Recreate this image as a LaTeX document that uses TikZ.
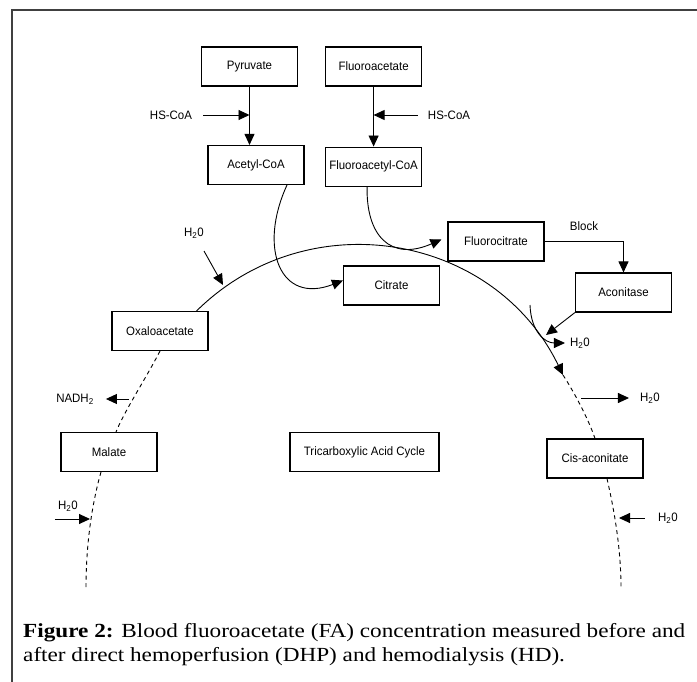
\documentclass[tikz,border=0pt]{standalone}
\usepackage{fontspec}
\usetikzlibrary{arrows.meta, positioning}
\newfontfamily\diagfont[FakeStretch=0.94]{Liberation Sans}
\newfontfamily\capfont[FakeStretch=1.16]{Liberation Serif}

\begin{document}
\begin{tikzpicture}[x=1pt, y=-1pt,
  metab/.style={rectangle, draw=black, line width=1.1pt, minimum width=96pt, minimum height=39pt,
                inner sep=2pt, font=\diagfont\fontsize{12.2}{14}\selectfont, text centered},
  tag/.style={inner sep=0pt, font=\diagfont\fontsize{12.2}{14}\selectfont},
  arrow/.style={-{Triangle[length=11pt, width=10pt]}, line width=0.9pt},
  dashline/.style={dash pattern=on 4pt off 3.5pt, line width=0.9pt}
]
\useasboundingbox (0,0) rectangle (697,682);
\draw[line width=1.5pt, black!75] (12,682) -- (12,10) -- (697,10);

% boxes
\node[metab] (pyr) at (249.5,66.5) {Pyruvate};
\node[metab, right=27pt of pyr] (fa) {Fluoroacetate};
\node[metab] (acoa) at (256,165) {Acetyl-CoA};
\node[metab, below=60pt of fa] (facoa) {Fluoroacetyl-CoA};
\node[metab] (fcit) at (496,241.5) {Fluorocitrate};
\node[metab] (cit)  at (391.5,285.5) {Citrate};
\node[metab] (acon) at (623.5,292.5) {Aconitase};
\node[metab] (oaa)  at (160,331) {Oxaloacetate};
\node[metab] (mal)  at (109,452) {Malate};
\node[metab, minimum width=149pt] (tca) at (364.5,452) {Tricarboxylic Acid Cycle};
\node[metab] (cis)  at (595,458.5) {Cis-aconitate};

% side labels
\node[tag] (hsL)  at (171,115) {HS-CoA};
\node[tag] (hsR)  at (449,115) {HS-CoA};
\node[tag] (blk)  at (584,226) {Block};
\node[tag] (wTL)  at (194,233) {H\textsubscript{2}0};
\node[tag] (wS)   at (580,343) {H\textsubscript{2}0};
\node[tag] (nadh) at (75,399)  {NADH\textsubscript{2}};
\node[tag] (wR1)  at (650,398) {H\textsubscript{2}0};
\node[tag] (wL)   at (68,506)  {H\textsubscript{2}0};
\node[tag] (wR2)  at (668,518) {H\textsubscript{2}0};

\coordinate (arcend) at (563,375);
\coordinate (aconend) at (546,335);
\coordinate (acin) at (530,305);
\coordinate (pWTL) at (223,285);
\coordinate (pNADH) at (129,399);
\coordinate (pWL) at (90,519);
\coordinate (pWR1) at (581,398);
\coordinate (pWR2) at (619,518);
\coordinate (lend) at (86,588);
\coordinate (rend) at (621,588);

% top pathway
\draw[arrow] (pyr.south) -- (pyr.south |- acoa.north);
\draw[arrow] (fa.south) -- (facoa.north);
\draw[arrow] ([xshift=11pt]hsL.east) -- (hsL -| pyr.south);
\draw[arrow] ([xshift=-10pt]hsR.west) -- (hsR -| fa.south);
\draw[arrow] ([xshift=31pt]acoa.south) .. controls (258,248) and (280,305) .. ([yshift=5pt]cit.west);
\draw[arrow] ([xshift=-6.5pt]facoa.south) .. controls (366,235) and (390,262) .. ([xshift=-6pt,yshift=2pt]fcit.west);
\draw[arrow] (fcit.east) -| (acon.north);
\draw[arrow] (acon.south west) -- (aconend);
\draw[arrow] (acin) .. controls (531,332) and (545,343) .. ([xshift=-5pt]wS.west);

% cycle
\draw[arrow] ([xshift=-12pt]oaa.north east) .. controls (308,201) and (494,233) .. (arcend);
\draw[dashline] (arcend) .. controls (574,392) and (588,418) .. (cis.north);
\draw[dashline] ([xshift=12pt]cis.south) .. controls (613,505) and (621,545) .. (rend);
\draw[dashline] (oaa.south) .. controls (145,380) and (125,410) .. ([xshift=7pt]mal.north);
\draw[dashline] ([xshift=-8pt]mal.south) .. controls (93,500) and (86,540) .. (lend);

% water and NADH
\draw[arrow] ([xshift=10pt,yshift=-18pt]wTL.center) -- (pWTL);
\draw[arrow] (pNADH) -- ([xshift=12pt]nadh.east);
\draw[arrow] ([xshift=-3pt,yshift=-13pt]wL.west) -- (pWL);
\draw[arrow] (pWR1) -- ([xshift=-11pt]wR1.west);
\draw[arrow] ([xshift=-13pt]wR2.west) -- (pWR2);

% caption
\node[anchor=base west, inner sep=0pt, font=\capfont\fontsize{20}{24}\selectfont] (cap1) at (23,637)
  {\textbf{Figure 2:} Blood fluoroacetate (FA) concentration measured before and};
\node[anchor=base west, inner sep=0pt, font=\capfont\fontsize{20}{24}\selectfont] (cap2) at (23,661.5)
  {after direct hemoperfusion (DHP) and hemodialysis (HD).};
\end{tikzpicture}
\end{document}
